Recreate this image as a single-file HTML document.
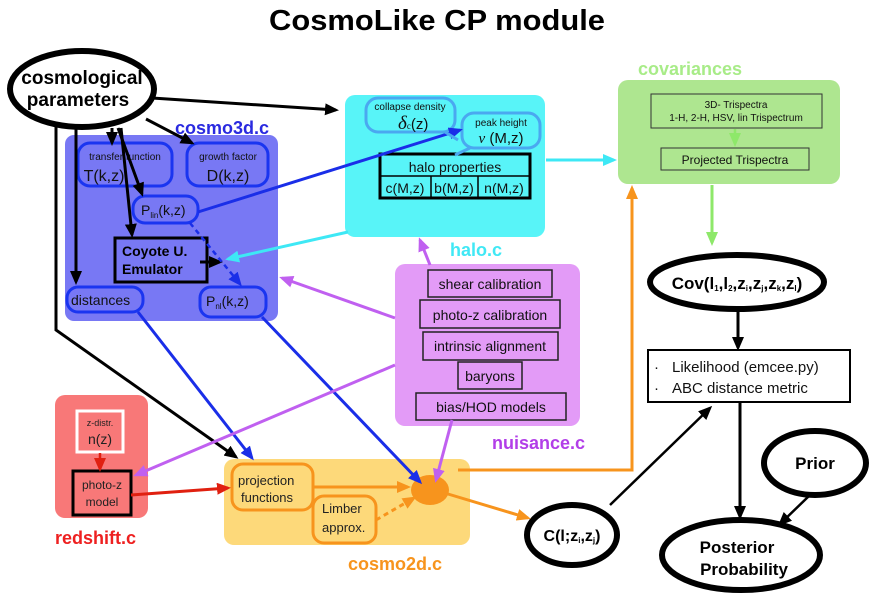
<!DOCTYPE html>
<html><head><meta charset="utf-8"><style>
html,body{margin:0;padding:0;background:#fff;}
svg{display:block;font-family:"Liberation Sans",sans-serif;}
.g{font-family:"Liberation Sans",sans-serif;}
</style></head><body>
<svg width="874" height="595" viewBox="0 0 874 595" xmlns="http://www.w3.org/2000/svg">
<defs>
<marker id="ak" markerWidth="8" markerHeight="8" refX="6" refY="4" orient="auto" markerUnits="userSpaceOnUse"><path d="M0,0 L8,4 L0,8 z" fill="#000"/></marker>
<marker id="ab" markerWidth="14" markerHeight="12" refX="11" refY="6" orient="auto" markerUnits="userSpaceOnUse"><path d="M0,0 L14,6 L0,12 z" fill="#1a2ee8"/></marker>
<marker id="ac" markerWidth="14" markerHeight="12" refX="11" refY="6" orient="auto" markerUnits="userSpaceOnUse"><path d="M0,0 L14,6 L0,12 z" fill="#3ee8f5"/></marker>
<marker id="ap" markerWidth="14" markerHeight="12" refX="11" refY="6" orient="auto" markerUnits="userSpaceOnUse"><path d="M0,0 L14,6 L0,12 z" fill="#c060f0"/></marker>
<marker id="ao" markerWidth="14" markerHeight="12" refX="11" refY="6" orient="auto" markerUnits="userSpaceOnUse"><path d="M0,0 L14,6 L0,12 z" fill="#f7941d"/></marker>
<marker id="ar" markerWidth="14" markerHeight="12" refX="11" refY="6" orient="auto" markerUnits="userSpaceOnUse"><path d="M0,0 L14,6 L0,12 z" fill="#e02010"/></marker>
<marker id="ag" markerWidth="14" markerHeight="12" refX="11" refY="6" orient="auto" markerUnits="userSpaceOnUse"><path d="M0,0 L14,6 L0,12 z" fill="#8ee86a"/></marker>
<marker id="aK" markerWidth="14" markerHeight="12" refX="11" refY="6" orient="auto" markerUnits="userSpaceOnUse"><path d="M0,0 L14,6 L0,12 z" fill="#000"/></marker>
</defs>

<text x="437" y="30" text-anchor="middle" font-size="29" font-weight="bold" textLength="336" lengthAdjust="spacingAndGlyphs">CosmoLike CP module</text>

<rect x="65" y="135" width="213" height="186" rx="9" fill="#7878f4"/>
<text x="175" y="134" font-size="18" font-weight="bold" fill="#2a2ae0">cosmo3d.c</text>
<rect x="345" y="95" width="200" height="142" rx="10" fill="#58f4f8"/>
<text x="450" y="256" font-size="18" font-weight="bold" fill="#40e8f5">halo.c</text>
<rect x="618" y="80" width="222" height="104" rx="10" fill="#aee690"/>
<text x="638" y="75" font-size="18" font-weight="bold" fill="#a8ec88">covariances</text>
<rect x="395" y="264" width="185" height="162" rx="10" fill="#e39bf7"/>
<text x="492" y="449" font-size="18" font-weight="bold" fill="#b23ee8">nuisance.c</text>
<rect x="55" y="395" width="93" height="123" rx="10" fill="#f87878"/>
<text x="55" y="544" font-size="18" font-weight="bold" fill="#ee2020">redshift.c</text>
<rect x="224" y="459" width="246" height="86" rx="10" fill="#fdd97a"/>
<text x="348" y="570" font-size="18" font-weight="bold" fill="#f7941d">cosmo2d.c</text>

<g fill="none" stroke="#1a35f0" stroke-width="3">
<rect x="78" y="143" width="94" height="43" rx="12"/>
<rect x="187" y="143" width="81" height="43" rx="12"/>
<rect x="133" y="196" width="65" height="27" rx="12"/>
<rect x="67" y="287" width="76" height="25" rx="11"/>
<rect x="200" y="287" width="66" height="30" rx="11"/>
</g>
<g class="g" fill="#111">
<text x="125" y="160" font-size="10" text-anchor="middle">transfer function</text>
<text x="104" y="181" font-size="16" text-anchor="middle">T(k,z)</text>
<text x="228" y="160" font-size="10" text-anchor="middle">growth factor</text>
<text x="228" y="181" font-size="16" text-anchor="middle">D(k,z)</text>
<text x="141" y="215" font-size="14">P<tspan font-size="8" dy="3">lin</tspan><tspan dy="-3">(k,z)</tspan></text>
<text x="71" y="305" font-size="14">distances</text>
<text x="206" y="306" font-size="14">P<tspan font-size="8" dy="3">nl</tspan><tspan dy="-3">(k,z)</tspan></text>
</g>
<rect x="115" y="238" width="92" height="44" fill="none" stroke="#000" stroke-width="3"/>
<text x="122" y="256" font-size="14" font-weight="bold">Coyote U.</text>
<text x="122" y="274" font-size="14" font-weight="bold">Emulator</text>

<g fill="none" stroke="#4aa8f0" stroke-width="3">
<rect x="366" y="98" width="89" height="34" rx="12"/>
<rect x="462" y="113" width="78" height="35" rx="12"/>
</g>
<g class="g" fill="#111">
<text x="410" y="110" font-size="10" text-anchor="middle">collapse density</text>
<text x="398" y="129" font-size="19" font-style="italic" font-family="Liberation Serif">δ<tspan font-size="9" font-style="normal">c</tspan><tspan font-size="15" font-style="normal" font-family="Liberation Sans">(z)</tspan></text>
<text x="501" y="126" font-size="10" text-anchor="middle">peak height</text>
<text x="501" y="143" font-size="15" text-anchor="middle"><tspan font-family="Liberation Serif" font-style="italic">ν</tspan> (M,z)</text>
</g>
<rect x="380" y="154" width="150" height="44" fill="none" stroke="#000" stroke-width="3"/>
<line x1="380" y1="176" x2="530" y2="176" stroke="#000" stroke-width="1.5"/>
<line x1="431" y1="176" x2="431" y2="198" stroke="#000" stroke-width="1.5"/>
<line x1="478" y1="176" x2="478" y2="198" stroke="#000" stroke-width="1.5"/>
<g class="g" fill="#111" font-size="14" text-anchor="middle">
<text x="455" y="172">halo properties</text>
<text x="405" y="193">c(M,z)</text>
<text x="454" y="193">b(M,z)</text>
<text x="504" y="193">n(M,z)</text>
</g>

<rect x="651" y="94" width="171" height="34" fill="none" stroke="#333" stroke-width="1"/>
<rect x="661" y="148" width="148" height="22" fill="none" stroke="#333" stroke-width="1"/>
<g class="g" fill="#111" text-anchor="middle">
<text x="736" y="108" font-size="10">3D- Trispectra</text>
<text x="736" y="121" font-size="10">1-H, 2-H, HSV, lin Trispectrum</text>
<text x="735" y="164" font-size="12">Projected Trispectra</text>
</g>
<line x1="735" y1="129" x2="735" y2="144" stroke="#8ee86a" stroke-width="2.5" marker-end="url(#ag)"/>

<g fill="none" stroke="#222" stroke-width="1.5">
<rect x="428" y="270" width="124" height="27"/>
<rect x="420" y="300" width="140" height="28"/>
<rect x="423" y="332" width="135" height="28"/>
<rect x="458" y="362" width="64" height="27"/>
<rect x="416" y="393" width="150" height="27"/>
</g>
<g class="g" fill="#111" font-size="14" text-anchor="middle">
<text x="490" y="289">shear calibration</text>
<text x="490" y="320">photo-z calibration</text>
<text x="490" y="351">intrinsic alignment</text>
<text x="490" y="381">baryons</text>
<text x="491" y="412">bias/HOD models</text>
</g>

<rect x="77" y="411" width="46" height="41" fill="none" stroke="#fff" stroke-width="3"/>
<text class="g" x="100" y="426" font-size="9" text-anchor="middle" fill="#222">z-distr.</text>
<text class="g" x="100" y="444" font-size="14" text-anchor="middle" fill="#222">n(z)</text>
<rect x="73" y="471" width="58" height="44" fill="none" stroke="#000" stroke-width="3"/>
<text class="g" x="102" y="489" font-size="12" text-anchor="middle" fill="#222">photo-z</text>
<text class="g" x="102" y="506" font-size="12" text-anchor="middle" fill="#222">model</text>
<line x1="100" y1="453" x2="100" y2="469" stroke="#e02010" stroke-width="2.5" marker-end="url(#ar)"/>

<g fill="none" stroke="#f7941d" stroke-width="3">
<rect x="232" y="464" width="81" height="46" rx="11"/>
<rect x="313" y="496" width="63" height="47" rx="11"/>
</g>
<g class="g" fill="#222" font-size="13">
<text x="238" y="485">projection</text>
<text x="241" y="502">functions</text>
<text x="322" y="513">Limber</text>
<text x="322" y="532">approx.</text>
</g>
<ellipse cx="430" cy="490" rx="19" ry="15" fill="#f7941d"/>

<g fill="#fff" stroke="#000" stroke-width="6">
<ellipse cx="82" cy="89" rx="72" ry="38"/>
<ellipse cx="737" cy="282" rx="87" ry="27"/>
<ellipse cx="815" cy="463" rx="51" ry="32"/>
<ellipse cx="741" cy="555" rx="79" ry="35"/>
<ellipse cx="572" cy="535" rx="45" ry="30"/>
</g>
<text x="82" y="84" font-size="19" font-weight="bold" text-anchor="middle">cosmological</text>
<text x="78" y="106" font-size="19" font-weight="bold" text-anchor="middle">parameters</text>
<text x="737" y="289" font-size="17" font-weight="bold" text-anchor="middle">Cov(l<tspan font-size="8" dy="2">1</tspan><tspan dy="-2">,l</tspan><tspan font-size="8" dy="2">2</tspan><tspan dy="-2">,z</tspan><tspan font-size="8" dy="2">i</tspan><tspan dy="-2">,z</tspan><tspan font-size="8" dy="2">j</tspan><tspan dy="-2">,z</tspan><tspan font-size="8" dy="2">k</tspan><tspan dy="-2">,z</tspan><tspan font-size="8" dy="2">l</tspan><tspan dy="-2">)</tspan></text>
<text x="815" y="469" font-size="17" font-weight="bold" text-anchor="middle">Prior</text>
<text x="737" y="553" font-size="17" font-weight="bold" text-anchor="middle">Posterior</text>
<text x="744" y="575" font-size="17" font-weight="bold" text-anchor="middle">Probability</text>
<text x="572" y="541" font-size="16" font-weight="bold" text-anchor="middle">C(l;z<tspan font-size="8" dy="2">i</tspan><tspan dy="-2">,z</tspan><tspan font-size="8" dy="2">j</tspan><tspan dy="-2">)</tspan></text>

<rect x="648" y="350" width="202" height="52" fill="#fff" stroke="#000" stroke-width="2"/>
<g class="g" font-size="15" fill="#111">
<text x="654" y="372">·</text><text x="672" y="372">Likelihood (emcee.py)</text>
<text x="654" y="393">·</text><text x="672" y="393">ABC distance metric</text>
</g>

<g stroke="#000" stroke-width="3" fill="none">
<line x1="152" y1="98" x2="336" y2="110" marker-end="url(#aK)"/>
<line x1="76" y1="127" x2="76" y2="282" marker-end="url(#aK)"/>
<line x1="112" y1="128" x2="112" y2="143" marker-end="url(#aK)"/>
<line x1="118" y1="128" x2="142" y2="194" marker-end="url(#aK)"/>
<line x1="121" y1="128" x2="132" y2="235" marker-end="url(#aK)"/>
<line x1="146" y1="119" x2="192" y2="143" marker-end="url(#aK)"/>
<path d="M56,124 L56,330 L236,457" marker-end="url(#aK)"/>
<line x1="200" y1="262" x2="220" y2="262" marker-end="url(#aK)"/>
<line x1="610" y1="505" x2="710" y2="408" stroke-width="2.5" marker-end="url(#aK)"/>
<line x1="738" y1="312" x2="738" y2="348" marker-end="url(#aK)"/>
<line x1="740" y1="403" x2="740" y2="517" marker-end="url(#aK)"/>
<line x1="810" y1="495" x2="780" y2="524" stroke-width="2.5" marker-end="url(#aK)"/>
</g>

<g stroke="#1a2ee8" stroke-width="3" fill="none">
<line x1="198" y1="212" x2="460" y2="130" marker-end="url(#ab)"/>
<line x1="190" y1="223" x2="240" y2="284" stroke-dasharray="5,4" stroke-width="2.5" marker-end="url(#ab)"/>
<line x1="138" y1="312" x2="252" y2="458" marker-end="url(#ab)"/>
<line x1="262" y1="317" x2="420" y2="482" marker-end="url(#ab)"/>
</g>
<g stroke="#4aa8f0" stroke-width="3">
<line x1="445" y1="132" x2="458" y2="140"/>
<line x1="470" y1="148" x2="455" y2="155"/>
</g>
<g stroke="#3ee8f5" stroke-width="3">
<line x1="348" y1="232" x2="228" y2="259" marker-end="url(#ac)"/>
<line x1="546" y1="160" x2="614" y2="160" marker-end="url(#ac)"/>
</g>
<line x1="712" y1="185" x2="712" y2="243" stroke="#8ee86a" stroke-width="3" marker-end="url(#ag)"/>
<g stroke="#c060f0" stroke-width="3">
<line x1="395" y1="318" x2="282" y2="278" marker-end="url(#ap)"/>
<line x1="430" y1="265" x2="420" y2="240" marker-end="url(#ap)"/>
<line x1="395" y1="365" x2="136" y2="475" marker-end="url(#ap)"/>
<line x1="452" y1="420" x2="436" y2="480" marker-end="url(#ap)"/>
</g>
<g stroke="#f7941d" stroke-width="3" fill="none">
<path d="M458,470 L632,470 L632,188" marker-end="url(#ao)"/>
<line x1="313" y1="487" x2="408" y2="487" marker-end="url(#ao)"/>
<line x1="376" y1="520" x2="414" y2="498" stroke-dasharray="5,4" marker-end="url(#ao)"/>
<line x1="448" y1="494" x2="528" y2="518" marker-end="url(#ao)"/>
</g>
<line x1="131" y1="495" x2="228" y2="488" stroke="#e02010" stroke-width="3" marker-end="url(#ar)"/>
</svg>
</body></html>
